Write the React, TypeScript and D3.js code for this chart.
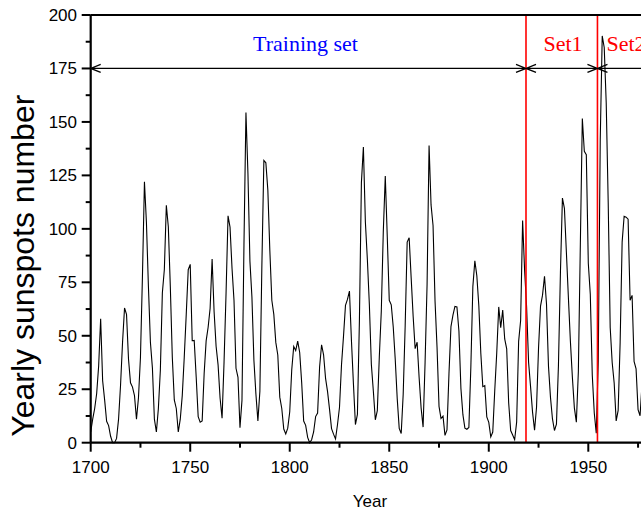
import React from "react";
import * as d3 from "d3";

const START_YEAR = 1700;
const sunspots = [
  5, 11, 16, 23, 36, 58, 29, 20, 10, 8, 3, 0, 0, 2, 11, 27, 47, 63, 60, 39,
  28, 26, 22, 11, 21, 40, 78, 122, 103, 73, 47, 35, 11, 5, 16, 34, 70, 81, 111, 101,
  73, 40, 20, 16, 5, 11, 22, 40, 60, 80.9, 83.4, 47.7, 47.8, 30.7, 12.2, 9.6, 10.2, 32.4, 47.6, 54,
  62.9, 85.9, 61.2, 45.1, 36.4, 20.9, 11.4, 37.8, 69.8, 106.1, 100.8, 81.6, 66.5, 34.8, 30.6, 7, 19.8, 92.5, 154.4, 125.9,
  84.8, 68.1, 38.5, 22.8, 10.2, 24.1, 82.9, 132, 130.9, 118.1, 89.9, 66.6, 60, 46.9, 41, 21.3, 16, 6.4, 4.1, 6.8,
  14.5, 34, 45, 43.1, 47.5, 42.2, 28.1, 10.1, 8.1, 2.5, 0, 1.4, 5, 12.2, 13.9, 35.4, 45.8, 41.1, 30.1, 23.9,
  15.6, 6.6, 4, 1.8, 8.5, 16.6, 36.3, 49.6, 64.2, 67, 70.9, 47.8, 27.5, 8.5, 13.2, 56.9, 121.5, 138.3, 103.2, 85.7,
  64.6, 36.7, 24.2, 10.7, 15, 40.1, 61.5, 98.5, 124.7, 96.3, 66.6, 64.5, 54.1, 39, 20.6, 6.7, 4.3, 22.7, 54.8, 93.8,
  95.8, 77.2, 59.1, 44, 47, 30.5, 16.3, 7.3, 37.6, 74, 139, 111.2, 101.6, 66.2, 44.7, 17, 11.3, 12.4, 3.4, 6,
  32.3, 54.3, 59.7, 63.7, 63.5, 52.2, 25.4, 13.1, 6.8, 6.3, 7.1, 35.6, 73, 85.1, 78, 64, 41.8, 26.2, 26.7, 12.1,
  9.5, 2.7, 5, 24.4, 42, 63.5, 53.8, 62, 48.5, 43.9, 18.6, 5.7, 3.6, 1.4, 9.6, 47.4, 57.1, 103.9, 80.6, 63.6,
  37.6, 26.1, 14.2, 5.8, 16.7, 44.3, 63.9, 69, 77.8, 64.9, 35.7, 21.2, 11.1, 5.7, 8.7, 36.1, 79.7, 114.4, 109.6, 88.8,
  67.8, 47.5, 30.6, 16.3, 9.6, 33.2, 92.6, 151.6, 136.3, 134.7, 83.9, 69.4, 31.5, 13.9, 4.4, 38, 141.7, 190.2, 184.8, 159,
  112.3, 53.9, 37.5, 27.9, 10.2, 15.1, 47, 93.8, 105.9, 105.5, 104.5, 66.6, 68.9, 38, 34.5, 15.5, 12.6, 27.5, 92.5, 155.4,
];

const xTickValues = [1700, 1750, 1800, 1850, 1900, 1950];
const xMinorTicks = [1725, 1775, 1825, 1875, 1925, 1975];
const yTickValues = [0, 25, 50, 75, 100, 125, 150, 175, 200];
const yMinorTicks = [12.5, 37.5, 62.5, 87.5, 112.5, 137.5, 162.5, 187.5];

const setBoundaries = [1700, 1918.7, 1954.6, 2000];
const setNames = ["Training set", "Set1", "Set2"];
const setColors = ["#0000ff", "#ff0000", "#ff0000"];
const arrowLevel = 175;

export default function App() {
  const left = 90.7;
  const top = 15;
  const bottom = 442.7;
  const x = d3.scaleLinear().domain([1700, 2000]).range([left, left + 300 * 1.9904]);
  const y = d3.scaleLinear().domain([0, 200]).range([bottom, top]);
  const right = x(2000);

  const data = sunspots.map((v, i) => ({ year: START_YEAR + i, v }));
  const line = d3
    .line<{ year: number; v: number }>()
    .x((d) => x(d.year))
    .y((d) => y(d.v));

  const ay = y(arrowLevel);
  const aL = 10;
  const aW = 4;
  const arrowPath = (x1: number, x2: number) =>
    `M${x1},${ay}H${x2}` +
    `M${x1 + aL},${ay - aW}L${x1},${ay}L${x1 + aL},${ay + aW}` +
    `M${x2 - aL},${ay - aW}L${x2},${ay}L${x2 - aL},${ay + aW}`;

  const labelPos = [
    { cx: 305.5, anchor: "middle" },
    { cx: 563, anchor: "middle" },
    { cx: 606.5, anchor: "start" },
  ];

  return (
    <svg
      width={641}
      height={517}
      style={{ position: "absolute", left: 0, top: 0, background: "#fff" }}
    >
      <rect x={0} y={0} width={641} height={517} fill="#fff" />
      <path d={line(data) || ""} fill="none" stroke="#000" strokeWidth={1.1} />
      {setBoundaries.slice(1, 3).map((b, i) => (
        <line key={i} x1={x(b)} x2={x(b)} y1={top} y2={bottom} stroke="#ff0000" strokeWidth={1.6} />
      ))}
      {setNames.map((n, i) => (
        <path
          key={n}
          d={arrowPath(x(setBoundaries[i]), x(setBoundaries[i + 1]))}
          fill="none"
          stroke="#000"
          strokeWidth={1.3}
        />
      ))}
      {setNames.map((n, i) => (
        <text
          key={n}
          x={labelPos[i].cx}
          y={50.7}
          textAnchor={labelPos[i].anchor as any}
          fontFamily="'Liberation Serif', 'Times New Roman', serif"
          fontSize={22}
          fill={setColors[i]}
        >
          {n}
        </text>
      ))}
      <line x1={left} x2={right} y1={top} y2={top} stroke="#000" strokeWidth={2.2} />
      <line x1={left} x2={right} y1={bottom} y2={bottom} stroke="#000" strokeWidth={2.2} />
      <line x1={left} x2={left} y1={top} y2={bottom} stroke="#000" strokeWidth={2.2} />
      {xTickValues.map((t) => (
        <g key={t}>
          <line x1={x(t)} x2={x(t)} y1={bottom} y2={bottom + 9} stroke="#000" strokeWidth={2} />
          <text
            x={x(t)}
            y={473.3}
            textAnchor="middle"
            fontFamily="'Liberation Sans', Arial, sans-serif"
            fontSize={17}
            fill="#000"
          >
            {t}
          </text>
        </g>
      ))}
      {xMinorTicks.map((t) => (
        <line key={t} x1={x(t)} x2={x(t)} y1={bottom} y2={bottom + 5} stroke="#000" strokeWidth={2} />
      ))}
      {yTickValues.map((t) => (
        <g key={t}>
          <line x1={left - 9} x2={left} y1={y(t)} y2={y(t)} stroke="#000" strokeWidth={2} />
          <text
            x={77}
            y={y(t)}
            dy="0.35em"
            textAnchor="end"
            fontFamily="'Liberation Sans', Arial, sans-serif"
            fontSize={17}
            fill="#000"
          >
            {t}
          </text>
        </g>
      ))}
      {yMinorTicks.map((t) => (
        <line key={t} x1={left - 5} x2={left} y1={y(t)} y2={y(t)} stroke="#000" strokeWidth={2} />
      ))}
      <text
        x={370}
        y={507}
        textAnchor="middle"
        fontFamily="'Liberation Sans', Arial, sans-serif"
        fontSize={17}
        fill="#000"
      >
        Year
      </text>
      <text
        transform={`translate(34,265.7) rotate(-90)`}
        textAnchor="middle"
        fontFamily="'Liberation Sans', Arial, sans-serif"
        fontSize={32}
        fill="#000"
      >
        Yearly sunspots number
      </text>
    </svg>
  );
}
